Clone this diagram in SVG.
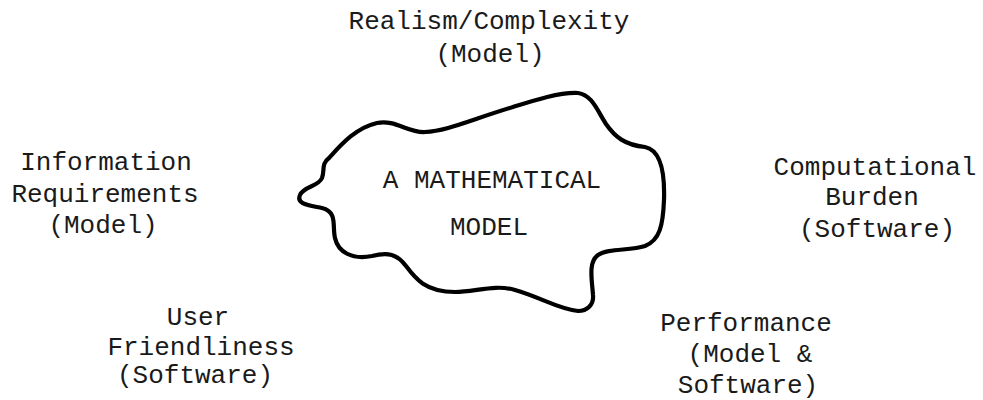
<svg xmlns="http://www.w3.org/2000/svg" width="983" height="400" viewBox="0 0 983 400">
<style>
text{font-family:"Liberation Mono","Courier New",monospace;font-size:26px;fill:#1a1a1a;text-anchor:middle}
.blob{fill:none;stroke:#000;stroke-width:4.2;stroke-linejoin:round;stroke-linecap:round}
</style>
<rect width="983" height="400" fill="#fff"/>
<g id="model">
<path class="blob" d="M 300,195 C 304,186 318,187 322,178 C 325,170 321,164 329,158 C 340,146 355,128 377,123 C 395,119 408,133 425,132 C 447,131 470,120 513,107 C 535,100 560,92 578,93 C 592,95 597,110 606,124 C 615,137 625,145 645,147 C 660,150 665,170 664,200 C 663,225 660,240 645,246 C 630,251 608,248 598,255 C 588,262 592,280 593,295 C 594,305 587,311 578,311 C 558,309 540,297 515,290 C 495,284 475,292 455,292 C 425,292 415,278 406,266 C 397,254 388,252 372,256 C 352,260 338,252 335,238 C 332,226 338,212 322,208 C 308,205 296,204 300,195 Z"/>
<text x="492" y="188">A MATHEMATICAL</text>
<text x="489" y="235">MODEL</text>
</g>
<g id="realism">
<text x="489" y="29">Realism/Complexity</text>
<text x="490" y="62">(Model)</text>
</g>
<g id="information">
<text x="106" y="170">Information</text>
<text x="105" y="202">Requirements</text>
<text x="103" y="233">(Model)</text>
</g>
<g id="computational">
<text x="875" y="175">Computational</text>
<text x="872" y="205">Burden</text>
<text x="877" y="237">(Software)</text>
</g>
<g id="user">
<text x="198" y="325">User</text>
<text x="201" y="355">Friendliness</text>
<text x="195" y="383">(Software)</text>
</g>
<g id="performance">
<text x="746" y="331">Performance</text>
<text x="750" y="362">(Model &amp;</text>
<text x="748" y="393">Software)</text>
</g>
<g id="connectors"/>
</svg>
